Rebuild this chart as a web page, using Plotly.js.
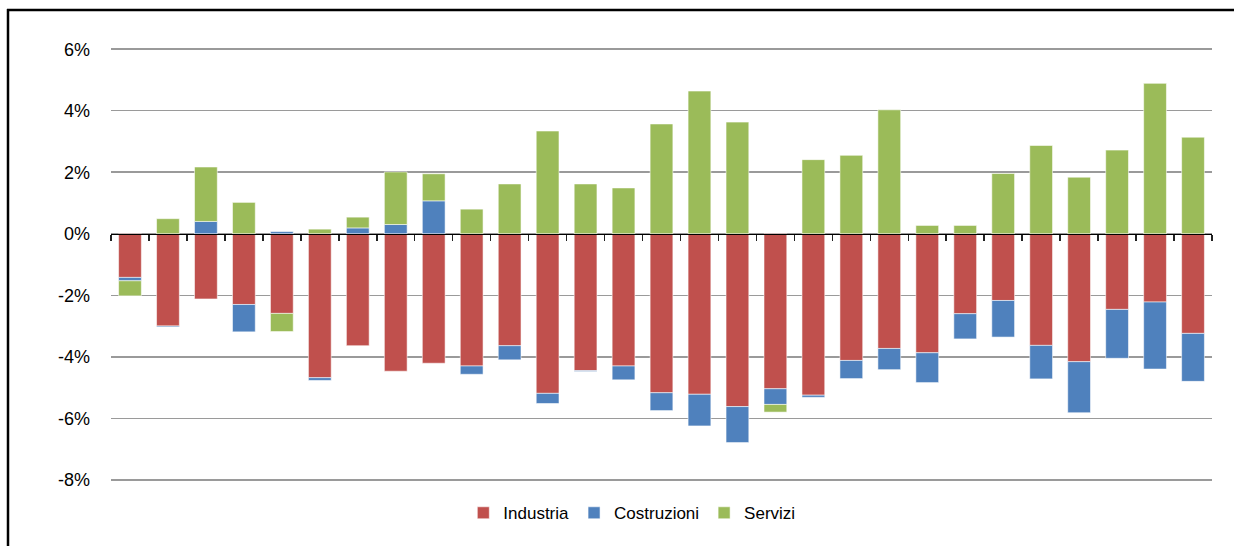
<!DOCTYPE html>
<html>
<head>
<meta charset="utf-8">
<script src="https://cdn.plot.ly/plotly-3.0.1.min.js"></script>
<style>
  html, body { margin: 0; padding: 0; background: #fff; }
  #chart { width: 1234px; height: 546px; }
</style>
</head>
<body>
<div id="chart"></div>
<script>
// Categories (no labels are shown on the reference axis)
const categories = ["1","2","3","4","5","6","7","8","9","10","11","12","13","14","15",
                    "16","17","18","19","20","21","22","23","24","25","26","27","28","29"];

// Contributions, percentage points
const industria = [-1.42,-3.00,-2.12,-2.30,-2.59,-4.68,-3.64,-4.47,-4.21,-4.30,-3.64,-5.19,-4.45,-4.30,-5.17,
                   -5.22,-5.62,-5.04,-5.25,-4.12,-3.73,-3.87,-2.60,-2.17,-3.63,-4.16,-2.46,-2.22,-3.24];
const costruzioni = [-0.11,-0.03,0.40,-0.89,0.07,-0.09,0.19,0.30,1.07,-0.27,-0.46,-0.33,-0.03,-0.45,-0.58,
                     -1.03,-1.17,-0.51,-0.07,-0.59,-0.69,-0.97,-0.82,-1.19,-1.09,-1.66,-1.59,-2.18,-1.56];
const servizi = [-0.49,0.49,1.77,1.02,-0.59,0.15,0.35,1.71,0.88,0.80,1.62,3.34,1.62,1.49,3.57,
                 4.64,3.63,-0.25,2.41,2.55,4.03,0.27,0.27,1.96,2.87,1.84,2.72,4.89,3.14];

const yTicks = [-8,-6,-4,-2,0,2,4,6];
const seriesNames = ["Industria","Costruzioni","Servizi"];
const seriesColors = ["#C0504D","#4F81BD","#9BBB59"];
const seriesValues = [industria, costruzioni, servizi];

const FONT = "Liberation Sans, Arial, sans-serif";

const traces = seriesValues.map((vals, i) => ({
  type: "bar",
  name: seriesNames[i],
  x: categories,
  y: vals,
  marker: { color: seriesColors[i], line: { color: "rgba(255,255,255,0.55)", width: 1 } },
  hoverinfo: "name+y"
}));

const yMin = -8.04, yMax = 6.04;
const zeroPos = (0 - yMin) / (yMax - yMin);

const layout = {
  width: 1234,
  height: 546,
  margin: { l: 111, r: 22, t: 48, b: 65, pad: 0 },
  paper_bgcolor: "#ffffff",
  plot_bgcolor: "#ffffff",
  barmode: "relative",
  bargap: 0.40,
  font: { family: FONT, size: 18, color: "#000" },
  xaxis: {
    type: "category",
    anchor: "free",
    position: zeroPos,
    showline: true,
    linecolor: "#000",
    linewidth: 1.5,
    showgrid: false,
    zeroline: false,
    ticks: "outside",
    ticklen: 6,
    tickwidth: 1.5,
    tickcolor: "#222",
    tickson: "boundaries",
    showticklabels: false,
    fixedrange: true
  },
  xaxis2: {
    type: "linear",
    overlaying: "x",
    anchor: "free",
    position: zeroPos,
    range: [-0.5, categories.length - 0.5],
    tickmode: "linear",
    tick0: -0.5,
    dtick: 1,
    ticks: "inside",
    ticklen: 6,
    tickwidth: 1.5,
    tickcolor: "#222",
    showline: false,
    showgrid: false,
    zeroline: false,
    showticklabels: false,
    fixedrange: true
  },
  yaxis: {
    range: [yMin, yMax],
    tickvals: yTicks,
    ticktext: yTicks.map(v => v + "%"),
    showgrid: true,
    gridcolor: "#9a9a9a",
    gridwidth: 1.5,
    zeroline: false,
    showline: false,
    ticks: "",
    ticklabelstandoff: 20,
    tickfont: { family: FONT, size: 18, color: "#000" },
    fixedrange: true
  },
  showlegend: true,
  legend: {
    orientation: "h",
    xref: "container",
    yref: "container",
    x: 0.512,
    xanchor: "center",
    y: 0.06,
    yanchor: "middle",
    font: { family: FONT, size: 17, color: "#000" },
    itemwidth: 30,
    traceorder: "normal",
    bgcolor: "rgba(0,0,0,0)"
  },
  shapes: [
    // top frame line
    { type: "line", xref: "paper", yref: "paper",
      x0: (7 - 111) / 1101, x1: (1234 - 111) / 1101,
      y0: (481 - 10) / 433, y1: (481 - 10) / 433,
      line: { color: "#000", width: 2.5 } },
    // left frame line
    { type: "line", xref: "paper", yref: "paper",
      x0: (8 - 111) / 1101, x1: (8 - 111) / 1101,
      y0: (481 - 9) / 433, y1: (481 - 546) / 433,
      line: { color: "#000", width: 2.5 } }
  ]
};

Plotly.newPlot("chart", traces, layout, { displayModeBar: false, staticPlot: true });
</script>
</body>
</html>
